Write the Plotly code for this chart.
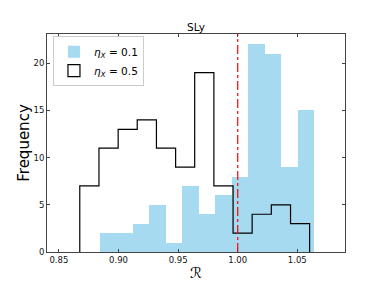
import plotly.graph_objects as go

# Histogram for eta_X = 0.1 (filled)
blue_edges = [0.8844, 0.8982, 0.9121, 0.9259, 0.9397, 0.9536, 0.9674, 0.9812,
              0.9951, 1.0089, 1.0227, 1.0366, 1.0504, 1.0642]
blue_counts = [2, 2, 3, 5, 1, 7, 4, 6, 8, 22, 21, 9, 15]

# Histogram for eta_X = 0.5 (step outline)
black_edges = [0.8675, 0.8836, 0.8997, 0.9157, 0.9318, 0.9479, 0.9639, 0.9800,
               0.9961, 1.0121, 1.0282, 1.0443, 1.0603]
black_counts = [7, 11, 13, 14, 11, 9, 19, 7, 2, 4, 5, 3]

x_ticks = [0.85, 0.90, 0.95, 1.00, 1.05]
y_ticks = [0, 5, 10, 15, 20]
ref_line = 1.0

FONT = "DejaVu Sans"

fig = go.Figure()

# filled histogram
fig.add_trace(go.Bar(
    x=blue_edges[:-1],
    y=blue_counts,
    width=[blue_edges[i + 1] - blue_edges[i] for i in range(len(blue_counts))],
    offset=0,
    marker=dict(color="rgba(135,206,235,0.75)", line=dict(width=0)),
    name="<i>η<sub>X</sub></i> = 0.1",
))

# step histogram path
sx = [black_edges[0]] + black_edges[:-1] + [black_edges[-1], black_edges[-1]]
sy = [0] + black_counts + [black_counts[-1], 0]
fig.add_trace(go.Scatter(
    x=sx, y=sy, mode="lines", line=dict(color="black", width=1.2, shape="hv"),
    showlegend=False, hoverinfo="skip",
))
# legend proxy for the step histogram
fig.add_trace(go.Bar(
    x=[None], y=[None],
    marker=dict(color="white", line=dict(color="black", width=1.2)),
    name="<i>η<sub>X</sub></i> = 0.5",
))

fig.add_vline(x=ref_line, line=dict(color="#ff0000", width=1.2, dash="dashdot"))

axis_common = dict(
    showline=True, linecolor="#444", linewidth=1, mirror="ticks",
    ticks="inside", ticklen=3, tickcolor="#444", showgrid=False, zeroline=False,
    tickfont=dict(family=FONT, size=8.5, color="#111"), automargin=False,
)

# page body has an 8px margin; figure sized so the plot area lands where the reference has it
W, H = 376, 280
fig.update_layout(
    width=W, height=H,
    margin=dict(l=39, r=39, t=26, b=36),
    paper_bgcolor="white", plot_bgcolor="white",
    barmode="overlay", bargap=0,
    font=dict(family=FONT, color="black"),
    title=dict(text="SLy", x=(39 + 337) / 2 / W, xanchor="center",
               y=1 - 19 / H, yanchor="middle",
               font=dict(family=FONT, size=10.5, color="black")),
    xaxis=dict(range=[0.84, 1.09], tickvals=x_ticks,
               ticktext=[f"{v:.2f}" for v in x_ticks],
               title=dict(text="ℛ", font=dict(family=FONT, size=15), standoff=3),
               **axis_common),
    yaxis=dict(range=[0, 23.1], tickvals=y_ticks,
               title=dict(text="Frequency", font=dict(family=FONT, size=15), standoff=0),
               **axis_common),
    legend=dict(x=0.02, y=0.99, xanchor="left", yanchor="top",
                bgcolor="white", bordercolor="#ccc", borderwidth=1,
                font=dict(family=FONT, size=10.5), itemwidth=30,
                tracegroupgap=0),
    showlegend=True,
)

fig.write_html("out.html")
